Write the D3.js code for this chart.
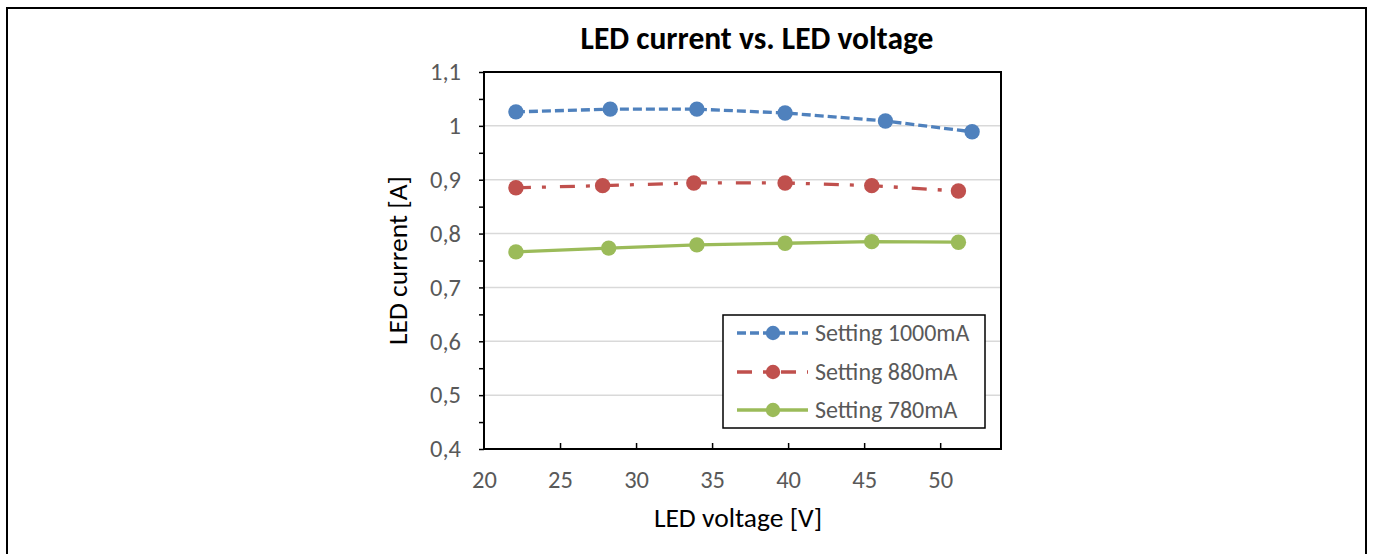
<!DOCTYPE html>
<html>
<head>
<meta charset="utf-8">
<script src="https://cdn.jsdelivr.net/npm/d3@7"></script>
<style>
  html, body { margin: 0; padding: 0; background: #fff; }
  svg { display: block; }
  text { font-family: Carlito, Lato, "Open Sans", sans-serif; }
</style>
</head>
<body>
<svg id="chart" width="1373" height="554"></svg>
<script>
// ---- data ----
const seriesNames = ["Setting 1000mA", "Setting 880mA", "Setting 780mA"];
const voltage1000 = [22.1, 28.3, 34.0, 39.8, 46.4, 52.1];
const current1000 = [1.026, 1.031, 1.031, 1.024, 1.009, 0.989];
const voltage880  = [22.1, 27.8, 33.8, 39.8, 45.5, 51.2];
const current880  = [0.885, 0.889, 0.894, 0.894, 0.889, 0.879];
const voltage780  = [22.1, 28.2, 34.0, 39.8, 45.5, 51.2];
const current780  = [0.766, 0.773, 0.779, 0.782, 0.785, 0.784];
const xTicks = [20, 25, 30, 35, 40, 45, 50];
const yTicks = [0.4, 0.5, 0.6, 0.7, 0.8, 0.9, 1.0, 1.1];
const yMinorTicks = [0.4, 0.45, 0.5, 0.55, 0.6, 0.65, 0.7, 0.75, 0.8, 0.85, 0.9, 0.95, 1.0, 1.05, 1.1];

const series = [
  { name: seriesNames[0], xs: voltage1000, ys: current1000, color: "#4f81bd", dash: "9,4" },
  { name: seriesNames[1], xs: voltage880,  ys: current880,  color: "#c0504d", dash: "15,11,4,14" },
  { name: seriesNames[2], xs: voltage780,  ys: current780,  color: "#9bbb59", dash: null }
];

const svg = d3.select("#chart");
const plot = { left: 484, right: 1001, top: 72, bottom: 449 };
const FONT = "Carlito, Lato, 'Open Sans', sans-serif";

// outer border
svg.append("rect").attr("x", 7).attr("y", 8).attr("width", 1359).attr("height", 560)
  .attr("fill", "none").attr("stroke", "#000").attr("stroke-width", 2);

const x = d3.scaleLinear().domain([20, 54]).range([plot.left, plot.right]);
const y = d3.scaleLinear().domain([0.4, 1.1]).range([plot.bottom, plot.top]);

// gridlines
svg.append("g").selectAll("line").data(yTicks.filter(v => v > 0.41 && v < 1.09)).join("line")
  .attr("x1", plot.left).attr("x2", plot.right)
  .attr("y1", d => y(d)).attr("y2", d => y(d))
  .attr("stroke", "#d9d9d9").attr("stroke-width", 1.5);

// frame
svg.append("rect").attr("x", plot.left).attr("y", plot.top)
  .attr("width", plot.right - plot.left).attr("height", plot.bottom - plot.top)
  .attr("fill", "none").attr("stroke", "#000").attr("stroke-width", 2);

// y axis (ticks outward incl. minor)
const yAxisG = svg.append("g").attr("transform", `translate(${plot.left},0)`)
  .call(d3.axisLeft(y).tickValues(yMinorTicks).tickSize(5).tickFormat(""));
yAxisG.select(".domain").remove();
yAxisG.selectAll("line").attr("stroke", "#000").attr("stroke-width", 1.5);

const yLab = svg.append("g").attr("transform", `translate(${plot.left},0)`)
  .call(d3.axisLeft(y).tickValues(yTicks).tickSize(0).tickPadding(23)
    .tickFormat(d => d3.format(".1f")(d).replace(".", ",").replace(",0", "")));
yLab.select(".domain").remove();
yLab.selectAll("text").attr("fill", "#595959").style("font-size", "24.5px")
  .style("font-family", FONT);

// x axis (ticks inward)
const xAxisG = svg.append("g").attr("transform", `translate(0,${plot.bottom})`)
  .call(d3.axisBottom(x).tickValues(xTicks.filter(v => v > 20)).tickSize(-6).tickFormat(""));
xAxisG.select(".domain").remove();
xAxisG.selectAll("line").attr("stroke", "#000").attr("stroke-width", 1.5);

const xLab = svg.append("g").attr("transform", `translate(0,${plot.bottom})`)
  .call(d3.axisBottom(x).tickValues(xTicks).tickSize(0).tickPadding(22));
xLab.select(".domain").remove();
xLab.selectAll("text").attr("fill", "#595959").style("font-size", "24.5px")
  .style("font-family", FONT);

// lines & markers
const line = d3.line().x(d => x(d[0])).y(d => y(d[1]));
series.forEach(s => {
  const pts = s.xs.map((v, i) => [v, s.ys[i]]);
  svg.append("path").datum(pts).attr("d", line)
    .attr("fill", "none").attr("stroke", s.color).attr("stroke-width", 3.3)
    .attr("stroke-dasharray", s.dash);
  svg.append("g").selectAll("circle").data(pts).join("circle")
    .attr("cx", d => x(d[0])).attr("cy", d => y(d[1])).attr("r", 7.7)
    .attr("fill", s.color);
});

// title
svg.append("text").attr("x", 757).attr("y", 49).attr("text-anchor", "middle")
  .style("font-size", "31.5px").style("font-weight", "bold").attr("fill", "#000")
  .text("LED current vs. LED voltage");

// axis titles
svg.append("text").attr("x", 738).attr("y", 527).attr("text-anchor", "middle")
  .style("font-size", "27.5px").attr("fill", "#000").text("LED voltage [V]");
svg.append("text").attr("transform", `translate(407,${(plot.top + plot.bottom) / 2}) rotate(-90)`)
  .attr("text-anchor", "middle").style("font-size", "27.5px").attr("fill", "#000")
  .text("LED current [A]");

// legend
const lg = svg.append("g");
lg.append("rect").attr("x", 723).attr("y", 315).attr("width", 262).attr("height", 113)
  .attr("fill", "#fff").attr("stroke", "#000").attr("stroke-width", 1.5);
const rowY = [333, 372, 410];
series.forEach((s, i) => {
  lg.append("line").attr("x1", 737).attr("x2", 808).attr("y1", rowY[i]).attr("y2", rowY[i])
    .attr("stroke", s.color).attr("stroke-width", 3.3).attr("stroke-dasharray", s.dash);
  lg.append("circle").attr("cx", 773).attr("cy", rowY[i]).attr("r", 7.2).attr("fill", s.color);
  lg.append("text").attr("x", 815).attr("y", rowY[i]).attr("dy", "0.35em")
    .style("font-size", "24px").attr("fill", "#595959").text(s.name);
});
</script>
</body>
</html>
